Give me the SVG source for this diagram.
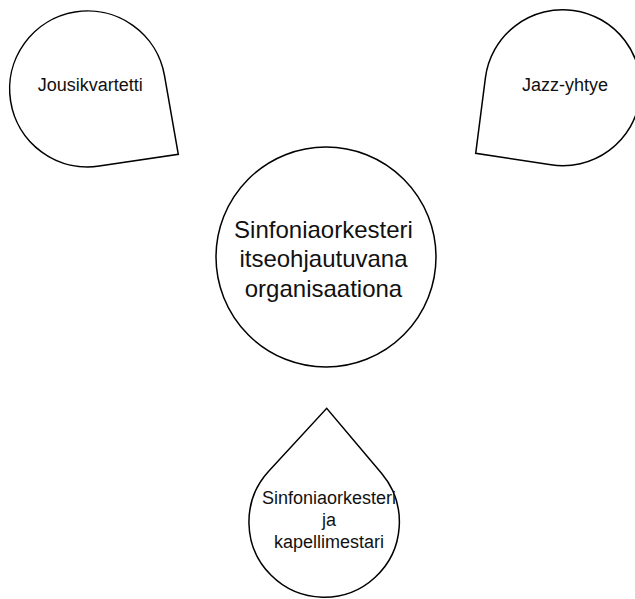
<svg xmlns="http://www.w3.org/2000/svg" width="635" height="599" viewBox="0 0 635 599">
  <style>
    .shape { fill: #ffffff; stroke: #000000; stroke-width: 1.5; stroke-linejoin: miter; }
    .lbl { font-family: "Liberation Sans", Arial, sans-serif; fill: #111111; text-anchor: middle; }
    .big { font-size: 24px; }
    .small { font-size: 18px; }
  </style>
  <rect width="635" height="599" fill="#ffffff"/>

  <!-- central circle -->
  <g id="node-center">
    <circle class="shape" cx="326" cy="257" r="110"/>
    <text class="lbl big" x="323.5" y="238.3">Sinfoniaorkesteri</text>
    <text class="lbl big" x="323.5" y="267.3">itseohjautuvana</text>
    <text class="lbl big" x="323.5" y="296.5">organisaationa</text>
  </g>

  <!-- teardrop, corner towards lower right -->
  <g id="node-jousikvartetti">
    <path class="shape" d="M99.2,166.1 A78,78 0 1 1 164.5,75.6 L178.3,154.3 Z"/>
    <text class="lbl small" x="90.2" y="90.7">Jousikvartetti</text>
  </g>

  <!-- teardrop, corner towards lower left -->
  <g id="node-jazz">
    <path class="shape" d="M485.4,77.8 A78,78 0 1 1 551.0,164.8 L475.7,153.3 Z"/>
    <text class="lbl small" x="565" y="90.7">Jazz-yhtye</text>
  </g>

  <!-- teardrop, corner pointing up -->
  <g id="node-kapellimestari">
    <path class="shape" d="M381.7,473.6 A75.2,75.2 0 1 1 268.9,471.0 L326.7,408.3 Z"/>
    <text class="lbl small" x="329" y="503.5">Sinfoniaorkesteri</text>
    <text class="lbl small" x="329" y="525.5">ja</text>
    <text class="lbl small" x="329" y="547.5">kapellimestari</text>
  </g>

  <g id="connectors"></g>
</svg>
